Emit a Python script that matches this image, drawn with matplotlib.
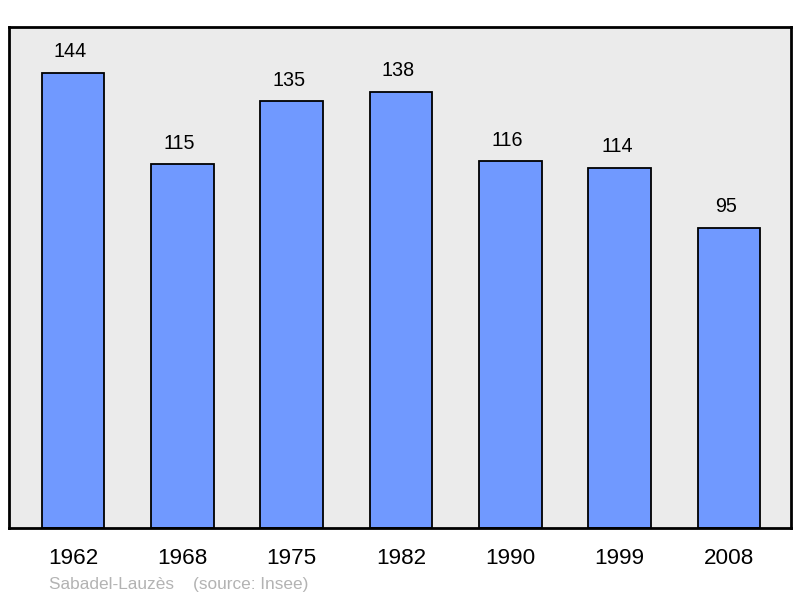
import matplotlib
matplotlib.use("Agg")
import matplotlib.pyplot as plt

years = ["1962", "1968", "1975", "1982", "1990", "1999", "2008"]
population = [144, 115, 135, 138, 116, 114, 95]

plt.rcParams['font.family'] = ['Liberation Sans', 'DejaVu Sans']

fig = plt.figure(figsize=(8, 5.98), dpi=100)
ax = fig.add_axes([9/800, 70/598, 782/800, 501/598])
ax.set_facecolor('#ebebeb')

x = list(range(len(years)))
ax.bar(x, population, width=0.575, color='#7099ff', edgecolor='black', linewidth=1.3, zorder=2)
for xi, v in zip(x, population):
    ax.annotate(str(v), (xi, v), xytext=(-2, 15), textcoords='offset points',
                ha='center', va='center', fontsize=14.2, color='black')

ax.set_xlim(-0.585, 6.567)
ax.set_ylim(0, 158.5)
ax.set_xticks(x)
ax.set_xticklabels(years, fontsize=16.2)
ax.tick_params(axis='x', length=0, pad=14.5)
ax.set_yticks([])
for s in ax.spines.values():
    s.set_linewidth(2)
    s.set_color('black')

fig.text(49/800, 1 - 584/598, "Sabadel-Lauzès    (source: Insee)", fontsize=12.4,
         color='#b3b3b3', ha='left', va='center')

fig.savefig("out.png", dpi=100)
